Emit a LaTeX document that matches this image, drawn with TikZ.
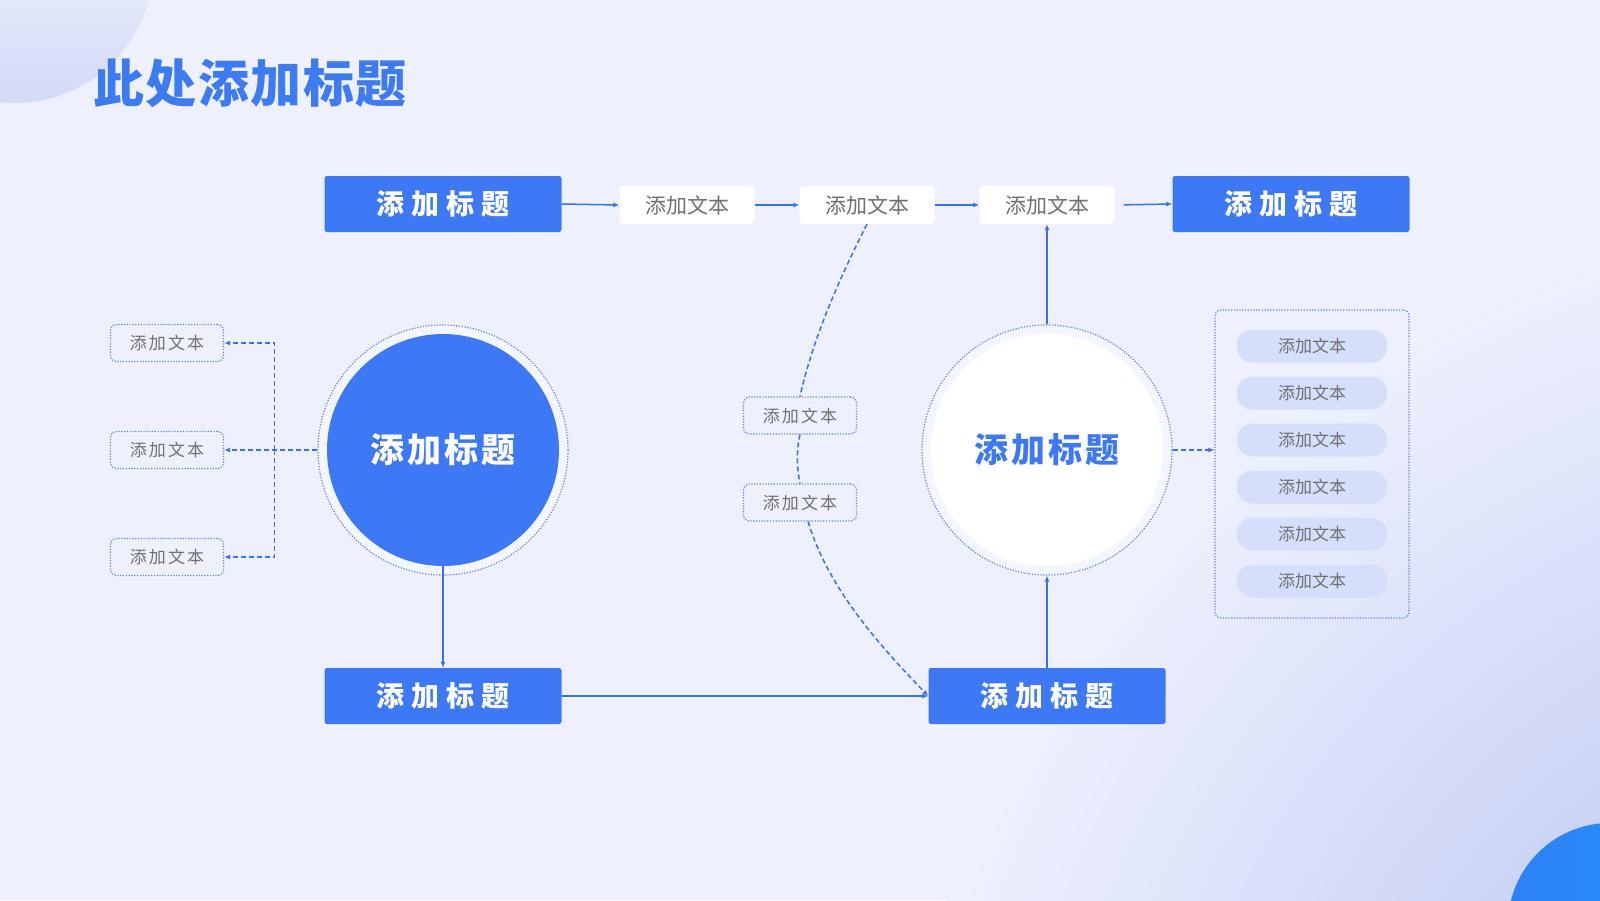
\documentclass[tikz,border=0pt]{standalone}
\usepackage{fontspec}
\newfontfamily\cjk{Noto Sans CJK SC}
\usetikzlibrary{arrows.meta,calc}
\definecolor{bg}{RGB}{238,241,253}
\definecolor{bgcore}{RGB}{170,184,239}
\definecolor{bgdark}{RGB}{200,209,245}
\definecolor{boxblue}{RGB}{61,121,246}
\definecolor{lineblue}{RGB}{58,112,232}
\definecolor{dotblue}{RGB}{95,130,210}
\definecolor{txtgray}{RGB}{112,112,112}
\definecolor{pillfill}{RGB}{213,223,251}
\definecolor{titleblue}{RGB}{61,123,242}
\definecolor{ringfill}{RGB}{243,246,255}
\tikzset{
  bluebox/.style={rectangle, rounded corners=2.5pt, fill=boxblue, minimum width=237pt, minimum height=56pt, inner sep=0pt, text=white,
    font=\cjk\bfseries\fontsize{28}{30}\selectfont\addfontfeatures{LetterSpace=25}},
  whitebox/.style={rectangle, rounded corners=4pt, fill=white, minimum width=135pt, minimum height=38pt, inner sep=0pt, text=txtgray,
    font=\cjk\fontsize{21}{22}\selectfont},
  dotbox/.style={rectangle, rounded corners=6pt, draw=dotblue, line width=1.2pt, dash pattern=on 1.2pt off 1.6pt,
    minimum width=113pt, minimum height=37pt, inner sep=0pt, text=txtgray,
    font=\cjk\fontsize{17}{18}\selectfont\addfontfeatures{LetterSpace=12}},
  pill/.style={rectangle, rounded corners=16.5pt, fill=pillfill, minimum width=151pt, minimum height=33pt, inner sep=0pt, text=txtgray,
    font=\cjk\fontsize{17}{18}\selectfont},
  ring/.style={circle, minimum size=250pt, inner sep=0pt, draw=dotblue, line width=1.2pt, dash pattern=on 1.2pt off 1.6pt, fill=ringfill},
  core/.style={circle, minimum size=232pt, inner sep=0pt,
    font=\cjk\bfseries\fontsize{34}{36}\selectfont\addfontfeatures{LetterSpace=8}},
  conn/.style={draw=lineblue, line width=1.5pt, -{Latex[length=6pt,width=5pt]}},
  dconn/.style={conn, dash pattern=on 5pt off 3pt},
}
\begin{document}
\begin{tikzpicture}[x=1pt,y=-1pt]
\useasboundingbox (0,0) rectangle (1600,900);
% background
\fill[bg] (0,0) rectangle (1600,900);
\begin{scope}
  \clip (0,0) rectangle (1600,900);
  \shade[inner color=bgcore, outer color=bg] (1900,1200) circle (1000);
  \shade[left color=bgdark!95!black!5, right color=bgdark!80!white, shading angle=0] (15,-35) circle (138);
  \shade[left color={rgb,255:red,45;green,128;blue,245}, right color={rgb,255:red,35;green,148;blue,252}] (1610,925) circle (102);
\end{scope}
% title
\node[anchor=west, text=titleblue, font=\cjk\bfseries\fontsize{51}{53}\selectfont\addfontfeatures{LetterSpace=3}, inner sep=0pt] (title) at (93,83) {此处添加标题};

% top row
\node[bluebox] (t1) at (443,204) {添加标题};
\node[whitebox] (w1) at (687,205) {添加文本};
\node[whitebox] (w2) at (867,205) {添加文本};
\node[whitebox] (w3) at (1047,205) {添加文本};
\node[bluebox] (t2) at (1291,204) {添加标题};

% circles
\node[ring] (lring) at (443,450) {};
\node[core, fill=boxblue, text=white] (lc) at (443,450) {添加标题};
\node[ring] (rring) at (1047,450) {};
\node[core, fill=white, text=boxblue] (rc) at (1047,450) {添加标题};

% bottom row
\node[bluebox] (b1) at (443,696) {添加标题};
\node[bluebox] (b2) at (1047,696) {添加标题};

% left dotted boxes
\node[dotbox] (l1) at (167,343) {添加文本};
\node[dotbox] (l2) at (167,450) {添加文本};
\node[dotbox] (l3) at (167,557) {添加文本};

% middle dotted boxes
\node[dotbox] (m1) at (800,415.5) {添加文本};
\node[dotbox] (m2) at (800,502.5) {添加文本};

% right group
\node[rectangle, rounded corners=6pt, draw=dotblue, line width=1.2pt, dash pattern=on 1.2pt off 1.6pt,
  minimum width=194pt, minimum height=308pt, inner sep=0pt] (grp) at (1312,464) {};
\node[pill] (p1) at (1312,346) {添加文本};
\node[pill] (p2) at (1312,393) {添加文本};
\node[pill] (p3) at (1312,440) {添加文本};
\node[pill] (p4) at (1312,487) {添加文本};
\node[pill] (p5) at (1312,534) {添加文本};
\node[pill] (p6) at (1312,581) {添加文本};

% connectors top
\draw[conn] (t1.east) -- (w1.west);
\draw[conn] (w1.east) -- (w2.west);
\draw[conn] (w2.east) -- (w3.west);
\draw[conn, shorten <=9pt] (w3.east) -- (t2.west);

% left bus
\coordinate (bus) at (274.5,450);
\draw[dconn] (lring.west) -- (l2.east);
\draw[dconn] (bus) |- (l1.east);
\draw[dconn] (bus) |- (l3.east);

% vertical / bottom
\draw[conn] (lc.south) -- (b1.north);
\draw[conn] (b1.east) -- (b2.west);
\draw[conn] (b2.north) -- (rring.south);
\draw[conn] (rring.north) -- (w3.south);
\draw[dconn] (rring.east) -- (rring.east -| grp.west);

% dashed curve
\draw[dconn, -] (w2.south) .. controls (840,277) and (813,338) .. (m1.north);
\draw[dconn, -] (m1.south) .. controls (796,452) and (797,468) .. (m2.north);
\draw[dconn] (m2.-67) .. controls (828,588) and (879,645) .. (b2.west);
\end{tikzpicture}
\end{document}
